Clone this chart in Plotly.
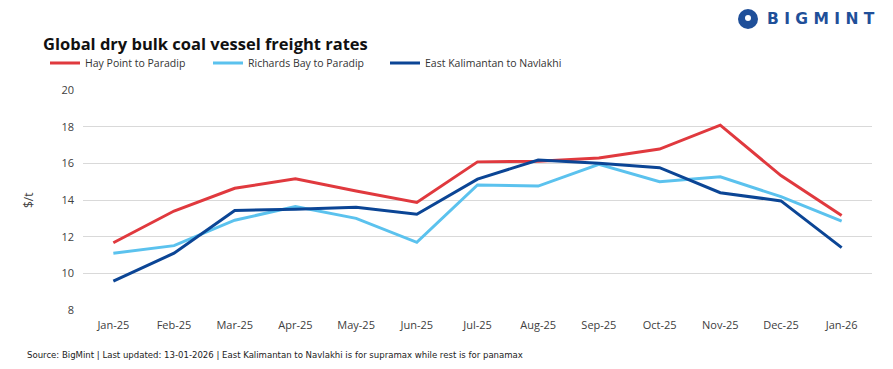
import plotly.graph_objects as go

months = ["Jan-25", "Feb-25", "Mar-25", "Apr-25", "May-25", "Jun-25", "Jul-25",
          "Aug-25", "Sep-25", "Oct-25", "Nov-25", "Dec-25", "Jan-26"]
hay_point = [11.67, 13.40, 14.64, 15.16, 14.49, 13.87, 16.08, 16.12, 16.29, 16.78, 18.08, 15.33, 13.16]
richards_bay = [11.09, 11.51, 12.90, 13.64, 13.00, 11.69, 14.82, 14.76, 15.95, 15.00, 15.27, 14.18, 12.85]
east_kalimantan = [9.58, 11.10, 13.43, 13.49, 13.60, 13.22, 15.14, 16.18, 16.00, 15.76, 14.40, 13.95, 11.40]
y_ticks = [8, 10, 12, 14, 16, 18, 20]

series = [
    ("Hay Point to Paradip", hay_point, "#e0393e", "legend", 45),
    ("Richards Bay to Paradip", richards_bay, "#5bc2ee", "legend2", 208),
    ("East Kalimantan to Navlakhi", east_kalimantan, "#0b4595", "legend3", 385),
]

L, R, T, B = 83, 21, 90, 59
PW, PH = 893 - L - R, 369 - T - B

def px(x):
    return (x - L) / PW

def py(y):
    return (369 - B - y) / PH

fig = go.Figure()
for name, vals, color, leg, _ in series:
    fig.add_trace(go.Scatter(x=months, y=vals, name=name, mode="lines", legend=leg,
                             line=dict(color=color, width=3)))

legend_cfg = {}
for name, vals, color, leg, lx in series:
    legend_cfg[leg] = dict(orientation="h", x=px(lx), xanchor="left", y=py(63),
                           yanchor="middle", font=dict(size=10.5, color="#333333"),
                           itemwidth=30, bgcolor="rgba(0,0,0,0)")

fig.update_layout(
    width=893, height=369,
    margin=dict(l=L, r=R, t=T, b=B, autoexpand=False),
    paper_bgcolor="white", plot_bgcolor="white",
    font=dict(family="Open Sans, Arial, sans-serif", size=11, color="#404040"),
    showlegend=True,
    **legend_cfg,
)

fig.update_xaxes(type="category", range=[-0.5, 12.5], showgrid=False, automargin=False,
                 showline=False, ticks="", ticklabelstandoff=7,
                 tickfont=dict(size=11, color="#404040"))
fig.update_yaxes(range=[8, 20], tickvals=y_ticks, showgrid=True, gridcolor="#d9d9d9",
                 gridwidth=1, zeroline=False, showline=False, ticks="", automargin=False,
                 ticklabelstandoff=8,
                 tickfont=dict(size=11, color="#404040"), title=None)

fig.add_annotation(text="$/t", xref="paper", yref="paper", x=px(28), y=py(200),
                   textangle=-90, showarrow=False, xanchor="center", yanchor="middle",
                   font=dict(size=12, color="#404040"))

fig.add_annotation(text="<b>Global dry bulk coal vessel freight rates</b>",
                   xref="paper", yref="paper", x=px(41), y=py(43),
                   xanchor="left", yanchor="middle", showarrow=False,
                   font=dict(size=16.5, color="#111111", family="Open Sans, Arial, sans-serif"))

fig.add_annotation(
    text="Source: BigMint | Last updated: 13-01-2026 | East Kalimantan to Navlakhi is for supramax while rest is for panamax",
    xref="paper", yref="paper", x=px(25), y=py(354), xanchor="left", yanchor="middle",
    showarrow=False,
    font=dict(family="DejaVu Sans Condensed, Liberation Sans Narrow, Arial, sans-serif",
              size=9.5, color="#222222"))

# Logo
fig.add_annotation(
    text="<b>B I G M I N T</b>", xref="paper", yref="paper",
    x=px(765), y=py(19), xanchor="left", yanchor="middle",
    showarrow=False,
    font=dict(family="DejaVu Sans, Arial, sans-serif", size=15.5, color="#1f4f99"))
fig.add_shape(type="circle", xref="paper", yref="paper",
              x0=px(738), x1=px(758), y0=py(29), y1=py(9),
              fillcolor="#1f4f99", line=dict(width=0))
fig.add_shape(type="circle", xref="paper", yref="paper",
              x0=px(745), x1=px(751), y0=py(21), y1=py(15),
              fillcolor="white", line=dict(width=0))

fig.write_html("out.html", config={"displayModeBar": False},
               post_script="document.body.style.margin='0';document.body.style.overflow='hidden';")
